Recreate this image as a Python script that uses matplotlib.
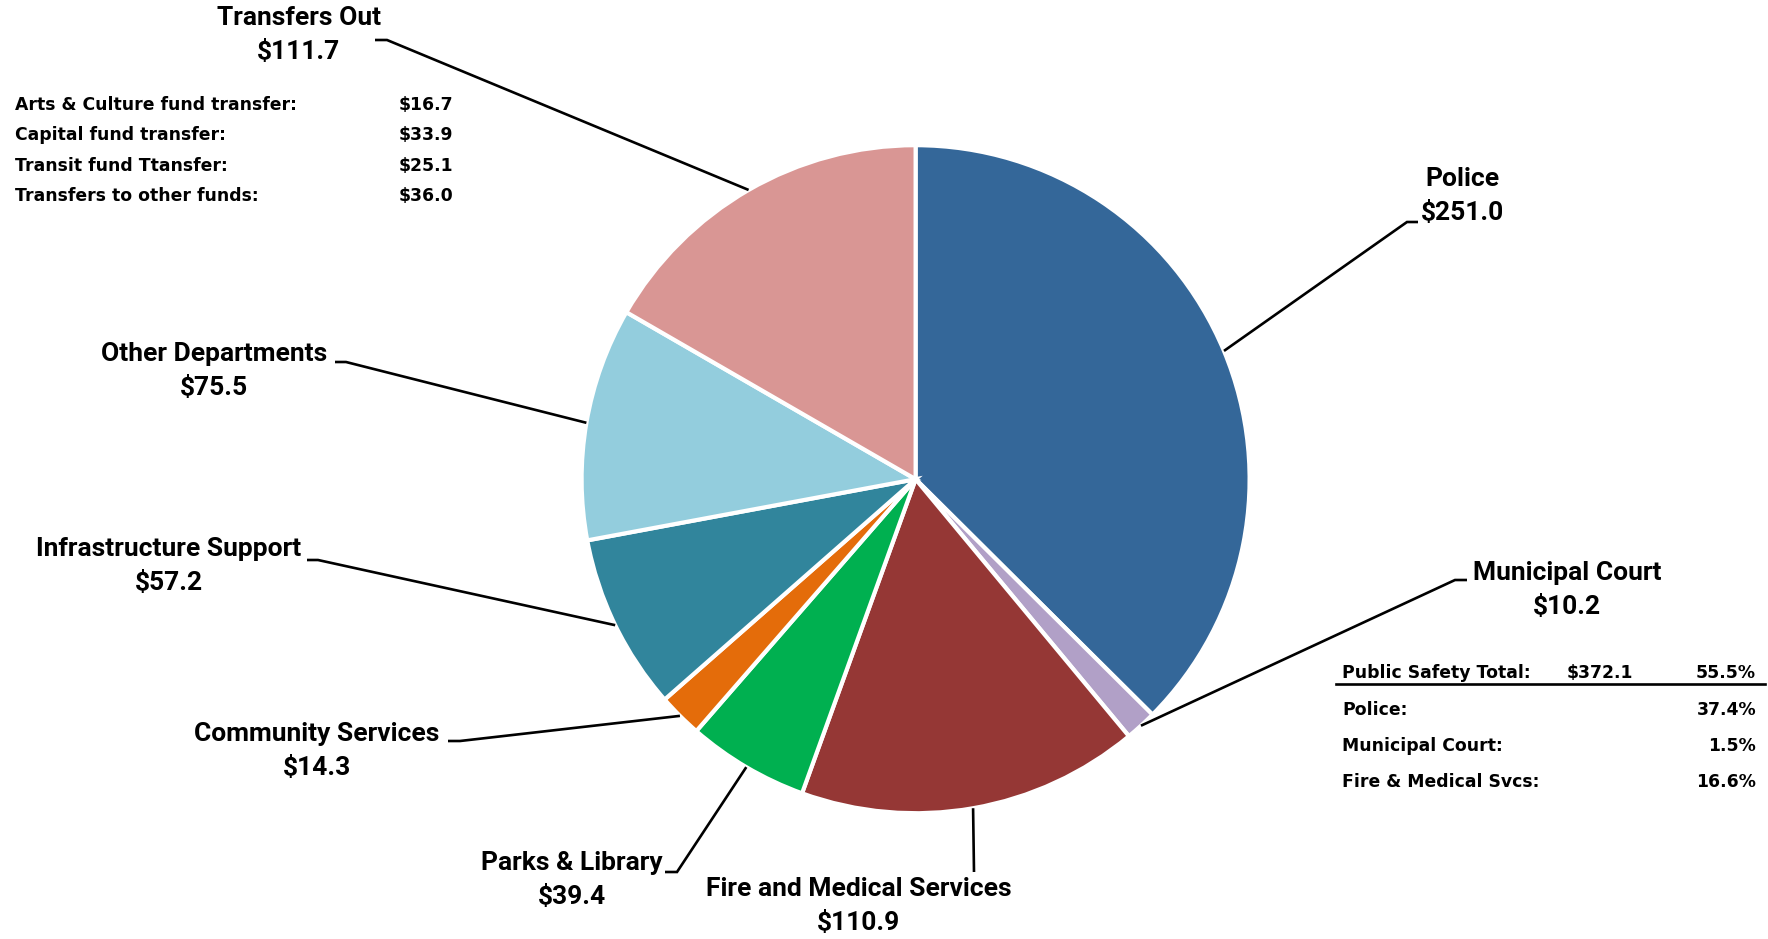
import matplotlib
matplotlib.use("Agg")
import matplotlib.pyplot as plt
import numpy as np

plt.rcParams["font.family"] = ["Roboto", "DejaVu Sans"]
plt.rcParams["font.weight"] = "bold"

# data
departments = ["Police", "Municipal Court", "Fire and Medical Services", "Parks & Library",
               "Community Services", "Infrastructure Support", "Other Departments", "Transfers Out"]
amounts = [251.0, 10.2, 110.9, 39.4, 14.3, 57.2, 75.5, 111.7]
colors = ["#346799", "#B1A0C7", "#953735", "#00B050", "#E46C0A", "#31859C", "#93CDDD", "#D99694"]

transfer_items = ["Arts & Culture fund transfer:", "Capital fund transfer:",
                  "Transit fund Ttansfer:", "Transfers to other funds:"]
transfer_amounts = [16.7, 33.9, 25.1, 36.0]

safety_items = ["Police:", "Municipal Court:", "Fire & Medical Svcs:"]
safety_pcts = [37.4, 1.5, 16.6]
safety_total = 372.1
safety_total_pct = 55.5

# layout (pixels, measured from top-left)
W, H = 1768, 939
center = (915.6, 479.2)
radius = 334
# label block centre, elbow point, end of short horizontal tick
label_pos = [(1462, 196), (1567, 590), (859, 906), (572, 880),
             (317, 751), (169, 566), (214, 371), (299, 35)]
elbows = [(1407, 222), (1455, 580), (974, 872), (677, 872),
          (460, 741), (318, 560), (346, 362), (387, 40)]
tick_ends = [(1418, 222), (1467, 580), (974, 872), (665, 872),
             (448, 741), (307, 560), (335, 362), (375, 40)]
table_font = dict(family=["DejaVu Sans"], fontsize=12.4, fontweight="bold")


def fy(y):
    return H - y


fig = plt.figure(figsize=(W / 100, H / 100), dpi=100)
ax = fig.add_axes([0, 0, 1, 1])

wedges, _ = ax.pie(amounts, colors=colors, startangle=90, counterclock=False,
                   center=(center[0], fy(center[1])), radius=radius,
                   wedgeprops=dict(edgecolor="white", linewidth=3))
ax.set_xlim(0, W)
ax.set_ylim(0, H)
ax.set_aspect("auto")
ax.axis("off")

for w, name, val, (tx, ty), (ex, ey), (hx, hy) in zip(
        wedges, departments, amounts, label_pos, elbows, tick_ends):
    mid = np.deg2rad((w.theta1 + w.theta2) / 2)
    px = center[0] + radius * np.cos(mid)
    py = fy(center[1]) + radius * np.sin(mid)
    ax.plot([px, ex, hx], [py, fy(ey), fy(hy)], color="black", lw=1.9,
            solid_capstyle="butt", solid_joinstyle="miter")
    ax.text(tx, fy(ty), f"{name}\n${val:.1f}", ha="center", va="center",
            fontsize=19, linespacing=1.52, color="black")

# transfers breakdown
for i, (item, amt) in enumerate(zip(transfer_items, transfer_amounts)):
    y = 105 + i * 30.3
    ax.text(15, fy(y), item, ha="left", va="center", **table_font)
    ax.text(399, fy(y), f"${amt:.1f}", ha="left", va="center", **table_font)

# public safety table
ax.text(1342, fy(673), "Public Safety Total:", ha="left", va="center", **table_font)
ax.text(1567, fy(673), f"${safety_total:.1f}", ha="left", va="center", **table_font)
ax.text(1756, fy(673), f"{safety_total_pct:.1f}%", ha="right", va="center", **table_font)
ax.plot([1336, 1765], [fy(684), fy(684)], color="black", lw=1.9)
for i, (item, pct) in enumerate(zip(safety_items, safety_pcts)):
    y = 710 + i * 36.1
    ax.text(1342, fy(y), item, ha="left", va="center", **table_font)
    ax.text(1756, fy(y), f"{pct:.1f}%", ha="right", va="center", **table_font)

fig.savefig("out.png", dpi=100, facecolor="white")
